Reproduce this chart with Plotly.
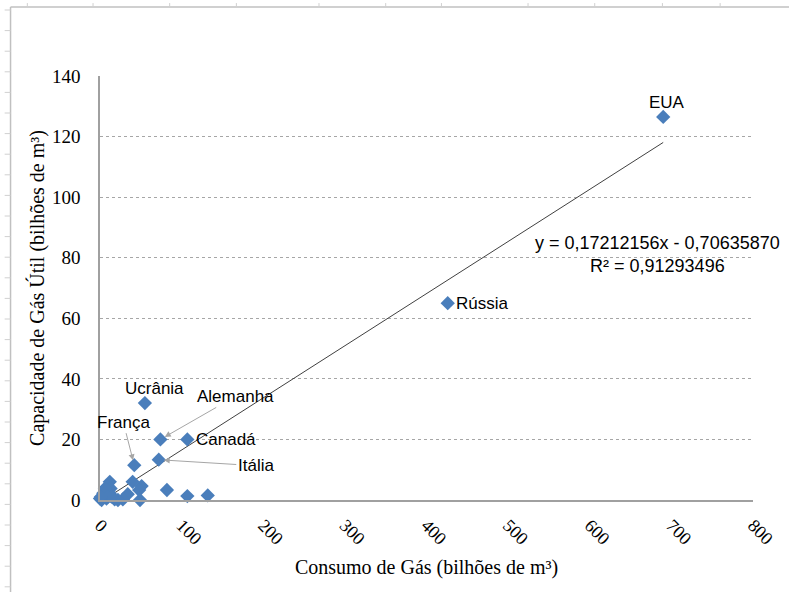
import plotly.graph_objects as go

# Gas consumption vs. working gas storage capacity (billion m³)
countries = ["EUA", "Rússia", "Ucrânia", "Alemanha", "Canadá", "França", "Itália"]
consumo_named = [690, 426, 55, 74, 107, 42, 72]
capacidade_named = [126.5, 65.0, 32.0, 20.0, 20.0, 11.5, 13.3]

consumo_other = [82, 107, 132, 49, 51, 48, 40, 34, 28, 18, 12, 13, 4, 2, 8, 12, 6, 22, 10, 14, 0, 1]
capacidade_other = [3.3, 1.3, 1.5, 0.0, 4.6, 3.3, 6.0, 1.9, 0.2, 0.2, 6.0, 3.8, 2.2, 0.0, 0.5, 2.2, 3.8, 0.0, 1.1, 1.1, 0.5, 1.0]

# Linear trend reported by the regression
slope = 0.17212156
intercept = -0.70635870
r2 = 0.91293496

x_ticks = [0, 100, 200, 300, 400, 500, 600, 700, 800]
y_ticks = [0, 20, 40, 60, 80, 100, 120, 140]

all_x = consumo_named + consumo_other
all_y = capacidade_named + capacidade_other
x_line = [min(all_x), max(all_x)]
y_line = [slope * v + intercept for v in x_line]

blue = "#4A7EBB"
sans = "Liberation Sans, Arial, sans-serif"
label_font = dict(family=sans, size=17, color="#000000")
serif = "Liberation Serif, Times New Roman, serif"

fig = go.Figure()
fig.add_trace(go.Scatter(
    x=x_line, y=y_line, mode="lines",
    line=dict(color="#404040", width=1), hoverinfo="skip", showlegend=False,
))
fig.add_trace(go.Scatter(
    x=all_x, y=all_y, mode="markers",
    marker=dict(symbol="diamond", size=11, color=blue, line=dict(width=0)),
    showlegend=False, cliponaxis=False,
))

# Labels placed beside their points (offsets in pixels)
plain_offsets = {"EUA": (4, 14), "Rússia": (35, 0), "Ucrânia": (10, 15), "Canadá": (39, 0)}
arrow_offsets = {"Alemanha": (75, -43), "França": (-11, -43), "Itália": (97, 6)}
for name, cx, cy in zip(countries, consumo_named, capacidade_named):
    if name in plain_offsets:
        dx, dy = plain_offsets[name]
        fig.add_annotation(x=cx, y=cy, text=name, showarrow=False,
                           xshift=dx, yshift=dy, font=label_font)
    else:
        ax, ay = arrow_offsets[name]
        fig.add_annotation(x=cx, y=cy, text=name, showarrow=True,
                           ax=ax, ay=ay, arrowcolor="#A6A6A6", arrowwidth=1,
                           arrowhead=2, arrowsize=1.2, standoff=5, font=label_font)

eq_text = (f"y = {slope:.8f}x - {abs(intercept):.8f}".replace(".", ",")
           + "<br>" + f"R² = {r2:.8f}".replace(".", ","))
fig.add_annotation(x=0.854, y=0.58, xref="paper", yref="paper", text=eq_text,
                   xanchor="center", yanchor="middle",
                   showarrow=False, align="center", font=dict(family=sans, size=18, color="#000"))

# Sheet border around the chart object
shapes = [
    dict(type="line", xref="paper", yref="paper", x0=-0.137, x1=1.2, y0=1.163, y1=1.163,
         line=dict(color="#C0C0C0", width=1.5)),
    dict(type="line", xref="paper", yref="paper", x0=-0.137, x1=-0.137, y0=1.163, y1=-0.3,
         line=dict(color="#C0C0C0", width=1.5)),
]
k = 0
while 10 + 20.6 * k < 592:
    yp = (500 - (10 + 20.6 * k)) / 424
    shapes.append(dict(type="line", xref="paper", yref="paper", x0=-0.146, x1=-0.137,
                       y0=yp, y1=yp, line=dict(color="#D0D0D0", width=1)))
    k += 1
for px in [27, 93, 170, 237, 320, 387, 443, 530, 597, 665, 723]:
    xp = (px - 100) / 656
    shapes.append(dict(type="line", xref="paper", yref="paper", x0=xp, x1=xp,
                       y0=1.163, y1=1.172, line=dict(color="#D0D0D0", width=1)))

fig.update_layout(
    width=789, height=592,
    margin=dict(l=100, r=33, t=76, b=92),
    paper_bgcolor="white", plot_bgcolor="white",
    shapes=shapes,
    xaxis=dict(
        range=[0, 800], tickvals=x_ticks, ticktext=[str(v) for v in x_ticks],
        tickangle=45, showgrid=False, zeroline=False,
        showline=True, linecolor="#A0A0A0", linewidth=1.5, ticks="",
        ticklabelstandoff=6,
        tickfont=dict(family=serif, size=18, color="#000"),
        title=dict(text="Consumo de Gás (bilhões de m³)", standoff=12,
                   font=dict(family=serif, size=20, color="#000")),
    ),
    yaxis=dict(
        range=[0, 140], tickvals=y_ticks, ticktext=[str(v) for v in y_ticks],
        showgrid=True, gridcolor="#A6A6A6", griddash="dot", gridwidth=1,
        zeroline=False, showline=True, linecolor="#A0A0A0", linewidth=1.5, ticks="",
        ticklabelstandoff=14,
        tickfont=dict(family=serif, size=19, color="#000"),
        title=dict(text="Capacidade de Gás Útil (bilhões de m³)", standoff=2,
                   font=dict(family=serif, size=20, color="#000")),
    ),
)

fig.write_html("out.html")
